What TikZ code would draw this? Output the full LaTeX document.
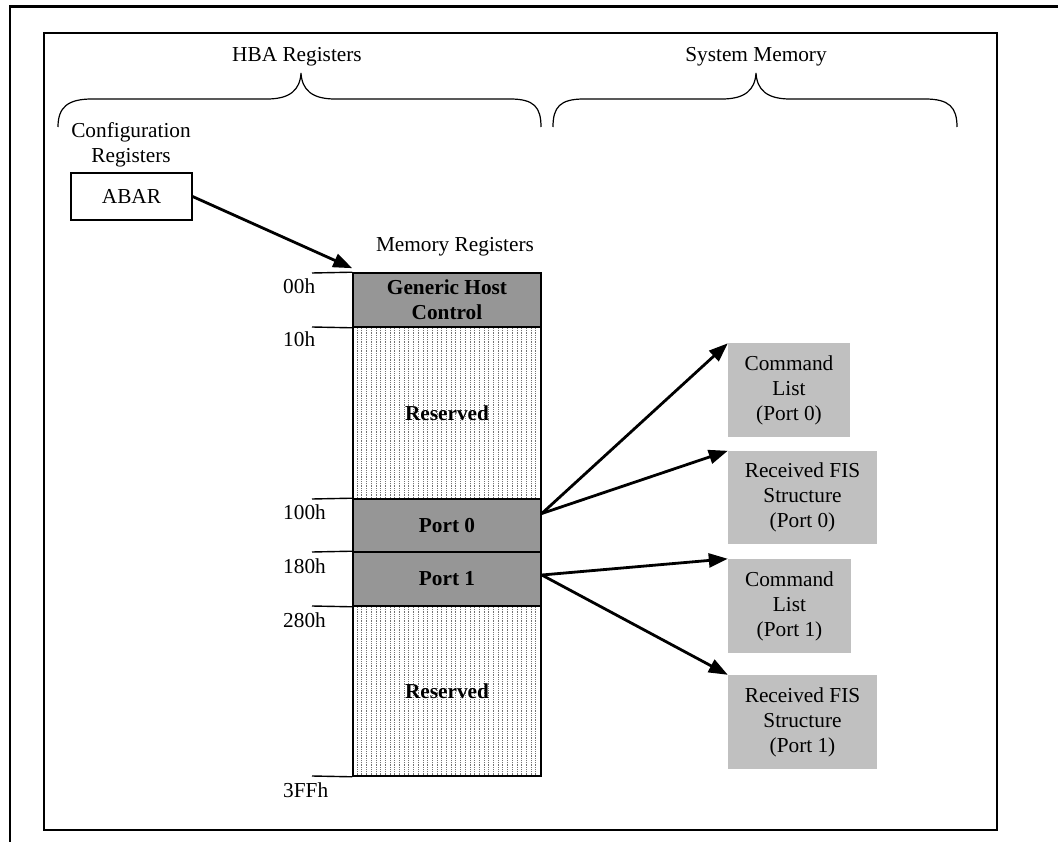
\documentclass[tikz,border=0pt]{standalone}
\usepackage{fontspec}
\setmainfont{Liberation Serif}
\usetikzlibrary{arrows.meta}
\definecolor{darkfill}{HTML}{969696}
\definecolor{lightfill}{HTML}{C0C0C0}
\tikzset{
  txt/.style={font=\fontsize{21.3}{25}\selectfont, inner sep=0pt, align=center},
  memcell/.style={draw, line width=1.6pt, minimum width=188pt, inner sep=0pt, font=\fontsize{21.3}{25}\selectfont\bfseries, align=center},
  portcell/.style={memcell, fill=darkfill},
  sysbox/.style={fill=lightfill, inner sep=0pt, font=\fontsize{21.3}{25}\selectfont, align=center},
  arr/.style={line width=2.8pt, -{Triangle[length=19pt,width=14pt]}},
  brace/.style={line width=1.2pt},
  frame/.style={line width=2.4pt},
  tick/.style={line width=1.4pt},
  addr/.style={font=\fontsize{21.3}{25}\selectfont, inner sep=0pt, anchor=west}
}
\begin{document}
\begin{tikzpicture}[x=1pt,y=-1pt]
\useasboundingbox (0,0) rectangle (1058,842);
% frames
\draw[frame] (10,842) -- (10,6.5) -- (1058,6.5);
\draw[line width=2pt] (44,33) rectangle (997,830);
% headings
\node[txt] (hba) at (297,57) {HBA Registers};
\node[txt] (sys) at (756,57) {System Memory};
% braces
\draw[brace] (58,127) .. controls (58,107) and (68,99) .. (92,99) -- (267,99)
  .. controls (290,99) and (300,90) .. (301,73)
  .. controls (302,90) and (312,99) .. (335,99) -- (510,99)
  .. controls (534,99) and (541,107) .. (541,127);
\draw[brace] (553,127) .. controls (553,107) and (560,99) .. (584,99) -- (722,99)
  .. controls (745,99) and (755,90) .. (756,73)
  .. controls (757,90) and (767,99) .. (790,99) -- (925,99)
  .. controls (949,99) and (957,107) .. (957,127);
% config registers
\node[txt] (cfg) at (131,145) {Configuration\\Registers};
\node[draw, line width=1.2pt, minimum width=121pt, minimum height=47pt, inner sep=0pt,
      font=\fontsize{21.3}{25}\selectfont] (abar) at (131.5,196.5) {ABAR};
\node[txt] (memreg) at (455,247) {Memory Registers};
% reserved hatching
\foreach \x in {357,361.7,...,540} {
  \draw[black!55, line width=0.5pt, dash pattern=on 0.7pt off 1.1pt] (\x,328) -- (\x,498);
  \draw[black!55, line width=0.5pt, dash pattern=on 0.7pt off 1.1pt] (\x,607) -- (\x,775);
}
% memory cells
\node[portcell, minimum height=54pt] (gh) at (447,300) {Generic Host\\Control};
\node[memcell, minimum height=172pt] (res1) at (447,413) {Reserved};
\node[portcell, minimum height=53pt] (port0) at (447,525.5) {Port 0};
\node[portcell, minimum height=54pt] (port1) at (447,579) {Port 1};
\node[memcell, minimum height=170pt] (res2) at (447,691) {Reserved};
% ticks
\coordinate (t0) at (312,273);
\coordinate (t1) at (312,327);
\coordinate (t2) at (312,499);
\coordinate (t3) at (312,552);
\coordinate (t4) at (312,606);
\coordinate (t5) at (312,776);
\draw[tick] (t0) -- (gh.north west);
\draw[tick] (t1) -- (gh.south west);
\draw[tick] (t2) -- (port0.north west);
\draw[tick] (t3) -- (port1.north west);
\draw[tick] (t4) -- (port1.south west);
\draw[tick] (t5) -- (res2.south west);
% address labels
\node[addr] (a0) at (283,286) {00h};
\node[addr] (a1) at (283,339) {10h};
\node[addr] (a2) at (283,512) {100h};
\node[addr] (a3) at (283,566) {180h};
\node[addr] (a4) at (283,620) {280h};
\node[addr] (a5) at (283,790) {3FFh};
% system memory boxes
\node[sysbox, minimum width=122pt, minimum height=93pt] (cl0) at (789,390) {Command\\List\\(Port 0)};
\node[sysbox, minimum width=149pt, minimum height=93pt] (rf0) at (802.5,497.5) {Received FIS\\Structure\\(Port 0)};
\node[sysbox, minimum width=123pt, minimum height=94pt] (cl1) at (789.5,606) {Command\\List\\(Port 1)};
\node[sysbox, minimum width=149pt, minimum height=94pt] (rf1) at (802.5,722) {Received FIS\\Structure\\(Port 1)};
% arrows
\draw[arr] (abar.east) -- ([yshift=4pt]gh.north west);
\draw[arr] ([yshift=12pt]port0.east) -- (cl0.north west);
\draw[arr] ([yshift=12pt]port0.east) -- (rf0.north west);
\draw[arr] ([yshift=4pt]port1.east) -- (cl1.north west);
\draw[arr] ([yshift=4pt]port1.east) -- (rf1.north west);
\end{tikzpicture}
\end{document}
